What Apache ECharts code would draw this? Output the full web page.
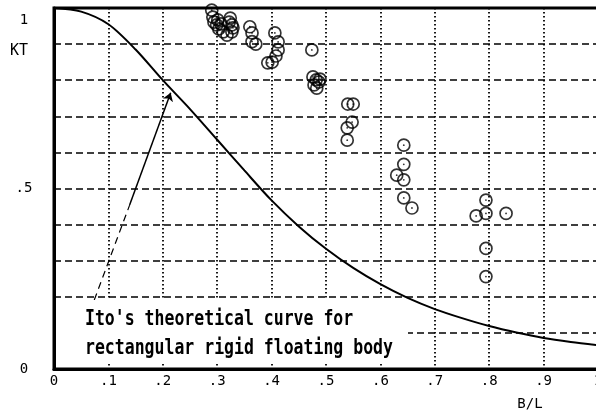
<!DOCTYPE html>
<html>
<head>
<meta charset="utf-8">
<script src="https://cdn.jsdelivr.net/npm/echarts@6/dist/echarts.min.js"></script>
<style>
  html, body { margin: 0; padding: 0; background: #fff; }
  #chart { width: 596px; height: 412px; }
</style>
</head>
<body>
<div id="chart"></div>
<script>
// Ito's theoretical transmission curve KT against B/L
const curveBL = [0, 0.05, 0.10, 0.15, 0.20, 0.25, 0.30, 0.35, 0.40, 0.45, 0.50, 0.55, 0.60, 0.65, 0.70, 0.75, 0.80, 0.85, 0.90, 0.95, 1.00];
const curveKT = [1, 0.990, 0.955, 0.885, 0.800, 0.720, 0.635, 0.550, 0.467, 0.395, 0.333, 0.280, 0.235, 0.197, 0.166, 0.141, 0.119, 0.101, 0.086, 0.075, 0.066];

// Measured transmission coefficients
const obsBL = [
  0.290, 0.292, 0.294, 0.299, 0.303, 0.311, 0.301, 0.307,
  0.324, 0.327, 0.327, 0.322, 0.329, 0.318,
  0.360, 0.364, 0.364, 0.371,
  0.406, 0.412, 0.412, 0.408, 0.401, 0.393,
  0.474,
  0.476, 0.482, 0.487, 0.478, 0.483, 0.489,
  0.540, 0.550, 0.548, 0.539, 0.539,
  0.643, 0.643, 0.630, 0.643, 0.643, 0.658,
  0.794, 0.794, 0.776, 0.831, 0.794, 0.794
];
const obsKT = [
  0.994, 0.975, 0.961, 0.953, 0.942, 0.934, 0.967, 0.956,
  0.972, 0.953, 0.934, 0.961, 0.945, 0.925,
  0.948, 0.931, 0.907, 0.900,
  0.931, 0.906, 0.884, 0.867, 0.850, 0.848,
  0.884,
  0.809, 0.801, 0.795, 0.787, 0.778, 0.803,
  0.734, 0.734, 0.684, 0.668, 0.634,
  0.620, 0.567, 0.537, 0.524, 0.474, 0.446,
  0.468, 0.431, 0.424, 0.431, 0.334, 0.256
];

// Leader arrow from the note up to the curve (tail, break, tip)
const arrowTail = [0.074, 0.191];
const arrowBreak = [0.139, 0.454];
const arrowTip = [0.2145, 0.765];

const noteLines = ["Ito's theoretical curve for", "rectangular rigid floating body"];

const curveData = curveBL.map((x, i) => [x, curveKT[i]]);
const obsData = obsBL.map((x, i) => [x, obsKT[i]]);

const tickFont = { fontFamily: 'DejaVu Sans Mono', fontSize: 14, color: '#000' };

const chart = echarts.init(document.getElementById('chart'), null, { renderer: 'canvas' });
chart.setOption({
  animation: false,
  backgroundColor: '#fff',
  grid: {
    left: 54, right: -2, top: 8, bottom: 43,
    outerBoundsMode: 'none', containLabel: false,
    show: true, borderColor: '#000', borderWidth: 3, backgroundColor: 'transparent'
  },
  xAxis: {
    type: 'value', min: 0, max: 1, interval: 0.1,
    name: 'B/L', nameLocation: 'middle', nameGap: 28,
    nameTextStyle: { fontFamily: 'DejaVu Sans Mono', fontSize: 14, color: '#000',
      align: 'center', verticalAlign: 'top', padding: [0, 0, 0, 408] },
    axisLine: { show: true, lineStyle: { color: '#000', width: 3 } },
    axisTick: { show: false },
    axisLabel: Object.assign({
      margin: 5, hideOverlap: false,
      formatter: v => v === 0 ? '0' : (Math.abs(v - 1) < 1e-9 ? '1' : '.' + Math.round(v * 10))
    }, tickFont),
    splitLine: { show: true, lineStyle: { color: '#000', width: 1.8, type: [1.5, 2.5] } }
  },
  yAxis: {
    type: 'value', min: 0, max: 1, interval: 0.1,
    name: 'KT', nameLocation: 'end', nameGap: -43,
    nameTextStyle: { fontFamily: 'DejaVu Sans Mono', fontSize: 15, color: '#000',
      align: 'center', verticalAlign: 'middle', padding: [0, 70, 0, 0] },
    axisLine: { show: true, lineStyle: { color: '#000', width: 3 } },
    axisTick: { show: false },
    axisLabel: Object.assign({
      margin: 30, align: 'center',
      formatter: v => {
        if (v === 0) return '0';
        if (Math.abs(v - 0.5) < 1e-9) return '.5';
        if (Math.abs(v - 1) < 1e-9) return '{one|1}';
        return '';
      },
      rich: { one: { fontFamily: 'DejaVu Sans Mono', fontSize: 14, color: '#000', padding: [24, 0, 0, 0] } }
    }, tickFont),
    splitLine: { show: true, lineStyle: { color: '#000', width: 1.6, type: [7, 4] } }
  },
  graphic: [
    {
      type: 'rect', z: 5,
      shape: { x: 56, y: 300, width: 352, height: 64 },
      style: { fill: '#fff' }
    },
    {
      type: 'text', z: 6, x: 85, y: 304, scaleY: 1.3,
      style: {
        text: noteLines.join('\n'),
        font: 'bold 16.5px "DejaVu Sans Mono"',
        lineHeight: 23, fill: '#000'
      }
    }
  ],
  series: [
    {
      type: 'line', data: curveData, smooth: 0.3, symbol: 'none',
      lineStyle: { color: '#000', width: 2 }, z: 3
    },
    {
      type: 'scatter', data: obsData, symbol: 'circle', symbolSize: 12,
      itemStyle: { color: 'rgba(0,0,0,0)', borderColor: '#000', borderWidth: 1.7 }, z: 4
    },
    {
      type: 'scatter', data: obsData, symbol: 'circle', symbolSize: 1.8,
      itemStyle: { color: '#000' }, z: 4
    },
    {
      type: 'lines', coordinateSystem: 'cartesian2d', z: 3,
      data: [
        { coords: [arrowTail, arrowBreak], lineStyle: { type: [7, 5], width: 1.2 } },
        { coords: [arrowBreak, arrowTip], symbol: ['none', 'arrow'], symbolSize: [0, 8] }
      ],
      symbol: ['none', 'none'],
      lineStyle: { color: '#000', width: 1.5, opacity: 1 }
    }
  ]
});
</script>
</body>
</html>
